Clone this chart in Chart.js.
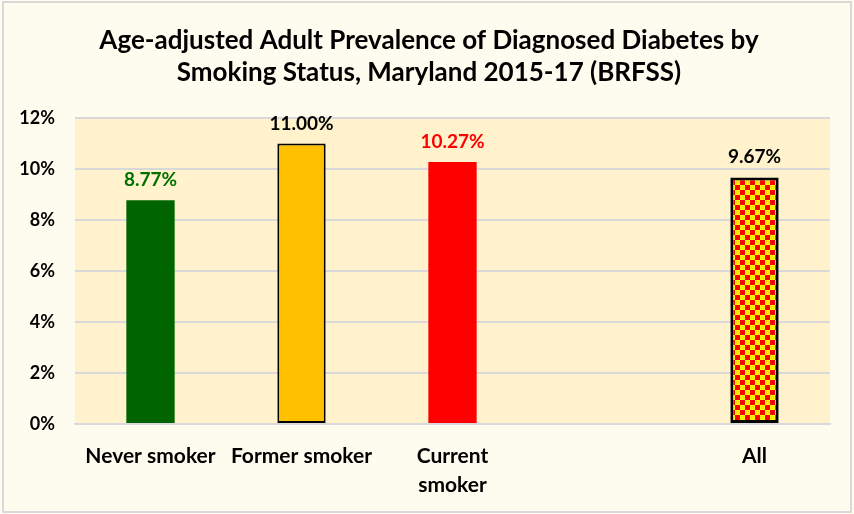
<!DOCTYPE html>
<html><head><meta charset="utf-8">
<script src="https://cdn.jsdelivr.net/npm/chart.js@4.4.1/dist/chart.umd.min.js"></script>
<style>html,body{margin:0;padding:0;background:#fefbef;}#wrap{width:854px;height:514px;}</style>
</head><body><div id="wrap"><canvas id="c" width="854" height="514"></canvas></div>
<script>
const categories = ["Never smoker", "Former smoker", ["Current", "smoker"], "", "All"];
const values = [8.77, 11.00, 10.27, null, 9.67];
const valueLabels = ["8.77%", "11.00%", "10.27%", "", "9.67%"];
const labelColors = ["#007000", "#000000", "#ff0000", "#000000", "#000000"];
const titleLines = ["Age-adjusted Adult Prevalence of Diagnosed Diabetes by", "Smoking Status, Maryland 2015-17 (BRFSS)"];
const yTicks = [0, 2, 4, 6, 8, 10, 12];

function makePattern() {
  const p = document.createElement('canvas');
  p.width = 10; p.height = 10;
  const g = p.getContext('2d');
  g.fillStyle = '#ffff00'; g.fillRect(0, 0, 10, 10);
  g.fillStyle = '#ff0000';
  g.fillRect(0, 0, 5, 5); g.fillRect(5, 5, 5, 5);
  g.fillStyle = '#f5d800';
  g.beginPath(); g.arc(7.5, 2.5, 1.8, 0, Math.PI * 2); g.fill();
  g.beginPath(); g.arc(2.5, 7.5, 1.8, 0, Math.PI * 2); g.fill();
  g.fillStyle = '#ffff00';
  g.beginPath(); g.arc(7.5, 2.5, 1.0, 0, Math.PI * 2); g.fill();
  g.beginPath(); g.arc(2.5, 7.5, 1.0, 0, Math.PI * 2); g.fill();
  return document.getElementById('c').getContext('2d').createPattern(p, 'repeat');
}
const pattern = makePattern();

const bgColors = ["#006400", "#ffc000", "#ff0000", "#ffffff", pattern];
const borderColors = ["#006400", "#000000", "#ff0000", "#000000", "#000000"];
const borderWidths = [0, 2, 0, 0, 3];

const decor = {
  id: 'decor',
  beforeDraw(chart) {
    const ctx = chart.ctx, a = chart.chartArea;
    ctx.save();
    ctx.fillStyle = '#fefbef';
    ctx.fillRect(0, 0, chart.width, chart.height);
    ctx.strokeStyle = '#d9d9d9'; ctx.lineWidth = 2;
    ctx.strokeRect(3, 2, 848, 510);
    ctx.fillStyle = '#fff2cc';
    ctx.fillRect(a.left, a.top, a.right - a.left, a.bottom - a.top);
    ctx.fillStyle = '#000';
    ctx.font = 'bold 26px Lato';
    ctx.textAlign = 'center'; ctx.textBaseline = 'middle';
    ctx.fillText(titleLines[0], 429, 41);
    ctx.fillText(titleLines[1], 429, 73);
    ctx.restore();
  },
  afterDatasetsDraw(chart) {
    const ctx = chart.ctx;
    const meta = chart.getDatasetMeta(0);
    ctx.save();
    ctx.font = 'bold 19px Lato';
    ctx.textAlign = 'center'; ctx.textBaseline = 'alphabetic';
    meta.data.forEach((bar, i) => {
      if (values[i] == null) return;
      ctx.fillStyle = labelColors[i];
      ctx.fillText(valueLabels[i], bar.x, bar.y - 14);
    });
    ctx.restore();
  }
};

new Chart(document.getElementById('c'), {
  type: 'bar',
  data: {
    labels: categories,
    datasets: [{
      data: values,
      backgroundColor: bgColors,
      borderColor: borderColors,
      borderWidth: borderWidths,
      borderSkipped: false,
      barPercentage: 0.32,
      categoryPercentage: 1.0
    }]
  },
  options: {
    responsive: false,
    animation: false,
    devicePixelRatio: 1,
    layout: { padding: { top: 118, right: 24, left: 0, bottom: 0 } },
    plugins: { legend: { display: false }, title: { display: false }, tooltip: { enabled: false } },
    scales: {
      x: {
        grid: { display: false, drawTicks: false },
        border: { display: true, color: '#d9d9d9', width: 2 },
        ticks: { color: '#000', font: { family: 'Lato', weight: 'bold', size: 21, lineHeight: 1.38 }, padding: 18, maxRotation: 0, autoSkip: false },
        afterFit(s) { s.height = 90; }
      },
      y: {
        min: 0, max: 12,
        afterBuildTicks(s) { s.ticks = yTicks.map(v => ({ value: v })); },
        grid: { color: '#d9d9d9', lineWidth: 2, drawTicks: false },
        border: { display: false },
        ticks: { color: '#000', font: { family: 'Lato', weight: 'bold', size: 18 }, padding: 20, callback: v => v + '%' },
        afterFit(s) { s.width = 75; }
      }
    }
  },
  plugins: [decor]
});
</script></body></html>
